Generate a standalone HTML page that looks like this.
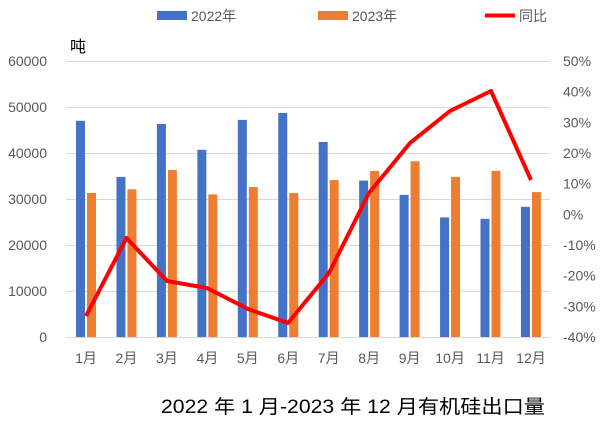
<!DOCTYPE html><html><head><meta charset="utf-8"><style>body{margin:0;background:#fff}svg text{font-family:"Liberation Sans","Noto Sans CJK SC",sans-serif;fill:#595959}</style></head><body>
<svg width="609" height="424" viewBox="0 0 609 424" xmlns="http://www.w3.org/2000/svg">
<g stroke="#d9d9d9" stroke-width="1">
<line x1="66" x2="550" y1="61.5" y2="61.5"/><line x1="66" x2="550" y1="107.5" y2="107.5"/><line x1="66" x2="550" y1="153.5" y2="153.5"/><line x1="66" x2="550" y1="199.5" y2="199.5"/><line x1="66" x2="550" y1="245.5" y2="245.5"/><line x1="66" x2="550" y1="291.5" y2="291.5"/><line x1="66" x2="550" y1="337.5" y2="337.5"/>
</g>
<g font-size="14" text-anchor="end">
<text x="47" y="66">60000</text><text x="47" y="112">50000</text><text x="47" y="158">40000</text><text x="47" y="204">30000</text><text x="47" y="250">20000</text><text x="47" y="296">10000</text><text x="47" y="342">0</text>
</g>
<g font-size="14" text-anchor="start">
<text x="563" y="66">50%</text><text x="563" y="96.7">40%</text><text x="563" y="127.3">30%</text><text x="563" y="158">20%</text><text x="563" y="188.7">10%</text><text x="563" y="219.3">0%</text><text x="563" y="250">-10%</text><text x="563" y="280.7">-20%</text><text x="563" y="311.3">-30%</text><text x="563" y="342">-40%</text>
</g>
<text x="70" y="52" font-size="16" style="fill:#000">吨</text>
<g fill="#4472c4">
<rect x="76" y="120.8" width="9" height="216.2"/><rect x="116.45" y="176.9" width="9" height="160.1"/><rect x="156.9" y="124" width="9" height="213"/><rect x="197.35" y="149.8" width="9" height="187.2"/><rect x="237.8" y="119.9" width="9" height="217.1"/><rect x="278.25" y="113" width="9" height="224"/><rect x="318.7" y="142" width="9" height="195"/><rect x="359.15" y="180.6" width="9" height="156.4"/><rect x="399.6" y="194.9" width="9" height="142.1"/><rect x="440.05" y="217.4" width="9" height="119.6"/><rect x="480.5" y="218.8" width="9" height="118.2"/><rect x="520.95" y="206.8" width="9" height="130.2"/>
</g>
<g fill="#ed7d31">
<rect x="87" y="193" width="9" height="144"/><rect x="127.45" y="189.3" width="9" height="147.7"/><rect x="167.9" y="170" width="9" height="167"/><rect x="208.35" y="194.4" width="9" height="142.6"/><rect x="248.8" y="187" width="9" height="150"/><rect x="289.25" y="193" width="9" height="144"/><rect x="329.7" y="180.1" width="9" height="156.9"/><rect x="370.15" y="170.9" width="9" height="166.1"/><rect x="410.6" y="161.3" width="9" height="175.7"/><rect x="451.05" y="176.9" width="9" height="160.1"/><rect x="491.5" y="170.9" width="9" height="166.1"/><rect x="531.95" y="192.1" width="9" height="144.9"/>
</g>
<g font-size="14" text-anchor="middle">
<text x="86" y="363">1月</text><text x="126.45" y="363">2月</text><text x="166.9" y="363">3月</text><text x="207.35" y="363">4月</text><text x="247.8" y="363">5月</text><text x="288.25" y="363">6月</text><text x="328.7" y="363">7月</text><text x="369.15" y="363">8月</text><text x="409.6" y="363">9月</text><text x="450.05" y="363">10月</text><text x="490.5" y="363">11月</text><text x="530.95" y="363">12月</text>
</g>
<polyline fill="none" stroke="#ff0000" stroke-width="4" stroke-linejoin="round" points="86,316 126.5,238 167,281 207,288 248,309 288,323 329,273 369,193 410,143 450,111 491,91 531,180"/>
<rect x="157" y="11" width="30" height="9" fill="#4472c4"/><text x="191" y="21" font-size="14">2022年</text>
<rect x="318" y="11" width="30" height="9" fill="#ed7d31"/><text x="352" y="21" font-size="14">2023年</text>
<line x1="485" x2="515" y1="15.5" y2="15.5" stroke="#ff0000" stroke-width="4"/><text x="519" y="21" font-size="14">同比</text>
<text x="161" y="413" font-size="19" textLength="384" lengthAdjust="spacingAndGlyphs" style="fill:#000">2022 年 1 月-2023 年 12 月有机硅出口量</text>
</svg></body></html>
